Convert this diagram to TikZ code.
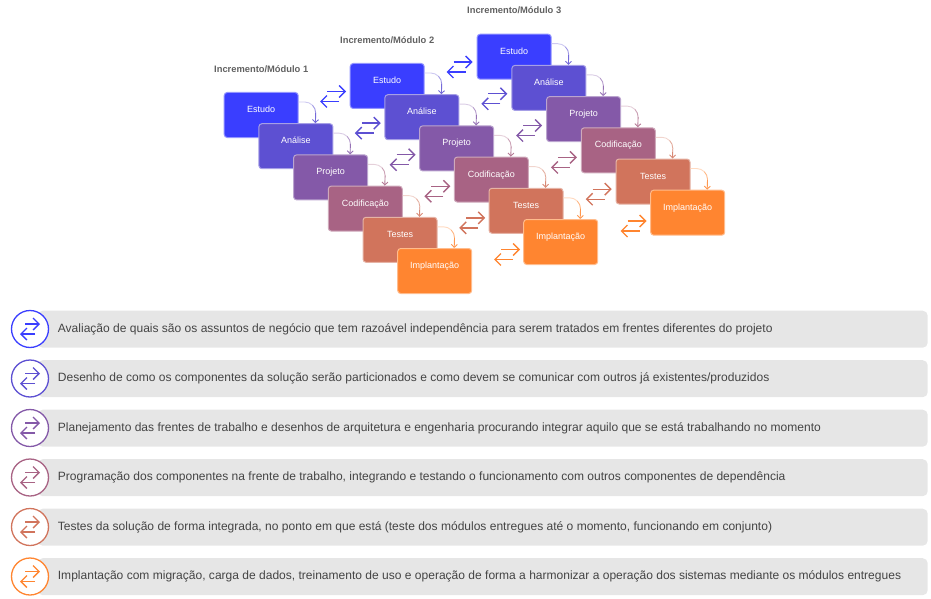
\documentclass[tikz,border=0pt]{standalone}
\usepackage{fontspec}
\setmainfont{Liberation Sans}
\usetikzlibrary{arrows.meta,calc}
\definecolor{c0}{HTML}{3A3EFF}
\definecolor{c1}{HTML}{5D50D2}
\definecolor{c2}{HTML}{8459A8}
\definecolor{c3}{HTML}{A86384}
\definecolor{c4}{HTML}{D1745C}
\definecolor{c5}{HTML}{FF8530}
\definecolor{txt}{HTML}{444444}
\definecolor{pill}{HTML}{E6E6E6}
\tikzset{
  stagebox/.style={draw=#1!55!white,fill=#1,line width=1pt,rounded corners=3pt,
    minimum width=74pt,minimum height=45pt,inner sep=0pt,anchor=north west,text=white,
    font=\fontsize{9}{11}\selectfont},
  modtitle/.style={anchor=west,inner sep=0pt,text=txt!85!white,font=\fontsize{9.35}{11}\selectfont\bfseries},
  pillbox/.style={fill=pill,rounded corners=5pt,minimum width=890pt,minimum height=37pt,inner sep=0pt,anchor=north west},
  rowtext/.style={anchor=west,inner sep=0pt,text=txt,font=\fontsize{12.03}{14}\selectfont},
  ring/.style={draw=#1,fill=white,line width=1.3pt,circle,minimum size=37pt,inner sep=0pt},
  barb/.style={-{Straight Barb[length=6pt,width=12pt,line width=1.4pt]},line width=1.4pt},
}
\newcommand{\swapicon}[3]{% centre x, centre y, colour
  \draw[barb,#3] ({#1-6},{#2-5}) -- ({#1+13},{#2-5});
  \draw[barb,#3] ({#1+6},{#2+5}) -- ({#1-13},{#2+5});
}
\newcommand{\ringicon}[3]{%
  \draw[barb,#3] ({#1-5},{#2-5}) -- ({#1+10},{#2-5});
  \draw[barb,#3] ({#1+5},{#2+5}) -- ({#1-10},{#2+5});
}
\newcommand{\stagelink}[3]{% from, to, colour of target
  \coordinate (ls) at ($(#1.north east)+(0,10)$);
  \coordinate (le) at ($(#2.north east)+(-18,0)$);
  \draw[#3!30!white,line width=.9pt] (ls) -- ++(6,0) arc[start angle=90,end angle=45,radius=11pt] coordinate (lm);
  \draw[#3!60!white,line width=.9pt] (lm) arc[start angle=45,end angle=0,radius=11pt] coordinate (ln);
  \draw[#3!85!white,line width=.9pt,-{Straight Barb[length=3pt,width=6pt,line width=.9pt]}] (ln) -- (le);
}
\begin{document}
\begin{tikzpicture}[x=1pt,y=-1pt]
\useasboundingbox (0,0) rectangle (931,599);
\node[modtitle] (t1) at (214,69) {Incremento/Módulo 1};
\node[modtitle] (t2) at (340,40) {Incremento/Módulo 2};
\node[modtitle] (t3) at (467,10) {Incremento/Módulo 3};
\foreach \m/\xo/\yo in {1/223.7/92,2/349.7/63,3/476.7/33.7}{
  \foreach \i/\lab in {0/Estudo,1/Análise,2/Projeto,3/Codificação,4/Testes,5/Implantação}{
    \node[stagebox=c\i] (m\m r\i) at ({\xo+34.7*\i},{\yo+31.2*\i}) {\smash{\raisebox{2.5pt}{\lab}}};
  }
  \foreach \i/\j in {0/1,1/2,2/3,3/4,4/5}{
    \stagelink{m\m r\i}{m\m r\j}{c\j}
  }
}
\foreach \i in {0,...,5}{
  \swapicon{(333+34.8*\i)}{(96.5+31.6*\i)}{c\i}
  \swapicon{(459.5+34.8*\i)}{(67+31.8*\i)}{c\i}
}
\foreach \i/\y/\txt in {
 0/310.5/{Avaliação de quais são os assuntos de negócio que tem razoável independência para serem tratados em frentes diferentes do projeto},
 1/360/{Desenho de como os componentes da solução serão particionados e como devem se comunicar com outros já existentes/produzidos},
 2/409.5/{Planejamento das frentes de trabalho e desenhos de arquitetura e engenharia procurando integrar aquilo que se está trabalhando no momento},
 3/459/{Programação dos componentes na frente de trabalho, integrando e testando o funcionamento com outros componentes de dependência},
 4/508.5/{Testes da solução de forma integrada, no ponto em que está (teste dos módulos entregues até o momento, funcionando em conjunto)},
 5/558/{Implantação com migração, carga de dados, treinamento de uso e operação de forma a harmonizar a operação dos sistemas mediante os módulos entregues}}{
  \node[pillbox] (p\i) at (37.5,\y) {};
  \node[ring=c\i] (o\i) at (30,{\y+18.5}) {};
  \ringicon{30}{(\y+18.5)}{c\i}
  \node[rowtext] (x\i) at (57.7,{\y+18.4}) {\txt};
}
\end{tikzpicture}
\end{document}
